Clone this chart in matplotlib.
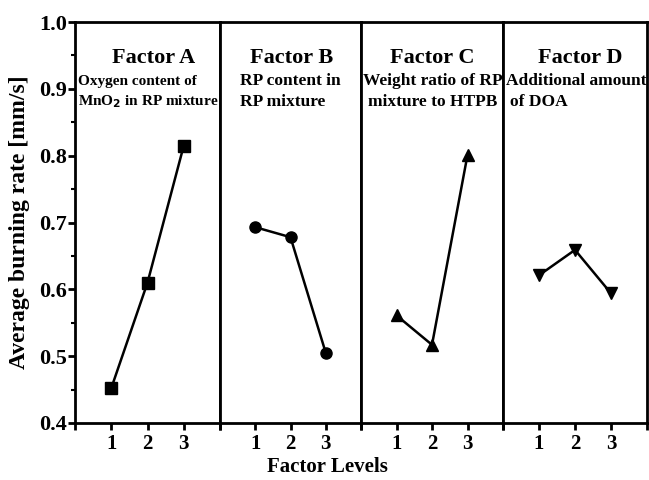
import numpy as np
import matplotlib
matplotlib.use("Agg")
import matplotlib.pyplot as plt

plt.rcParams['font.family'] = ['Liberation Serif', 'DejaVu Serif']
plt.rcParams['font.weight'] = 'bold'

levels = [1, 2, 3]
factor_a = [0.452, 0.610, 0.815]
factor_b = [0.693, 0.678, 0.505]
factor_c = [0.561, 0.517, 0.801]
factor_d = [0.621, 0.659, 0.594]

titles = ['Factor A', 'Factor B', 'Factor C', 'Factor D']
subtitles = [['Oxygen content of', 'MnO$_\\mathbf{2}$ in RP mixture'],
             ['RP content in', 'RP mixture'],
             ['Weight ratio of RP', 'mixture to HTPB'],
             ['Additional amount', 'of DOA']]
markers = ['s', 'o', '^', 'v']
series = [factor_a, factor_b, factor_c, factor_d]

fig = plt.figure(figsize=(6.49, 4.8), dpi=100)
W, H = 649, 480
bottom, top = 1 - 423 / H, 1 - 22 / H
edges = [75, 220, 361, 503, 647]
# pixel x where each subtitle line starts
sub_x = [[78, 78], [240, 240], [363, 368], [506, 510]]
sub_size = [11, 12.5, 12.5, 12.5]
title_x = [154, 292, 432, 580]

for i in range(4):
    x0 = edges[i] / W
    w = (edges[i + 1] - edges[i]) / W
    ax = fig.add_axes([x0, bottom, w, top - bottom])
    ax.plot(levels, series[i], color='black', lw=1.8, marker=markers[i],
            markersize=8, markerfacecolor='black')
    ax.set_xlim(0, 4)
    ax.set_ylim(0.4, 1.0)
    ax.set_xticks([0, 1, 2, 3, 4])
    ax.set_xticklabels(['', '1', '2', '3', ''], fontsize=15, fontweight='bold')
    for s in ax.spines.values():
        s.set_linewidth(2)
    ax.tick_params(axis='x', direction='out', length=5, width=2, pad=3)
    if i == 0:
        ax.set_yticks(np.arange(0.4, 1.01, 0.1))
        ax.set_yticks(np.arange(0.45, 1.0, 0.1), minor=True)
        ax.set_yticklabels(['%.1f' % v for v in np.arange(0.4, 1.01, 0.1)],
                           fontsize=16, fontweight='bold')
        ax.tick_params(axis='y', which='major', direction='out', length=5,
                       width=2, pad=1)
        ax.tick_params(axis='y', which='minor', direction='out', length=3,
                       width=1.5)
    else:
        ax.set_yticks([])
    fig.text(title_x[i] / W, 1 - 58 / H, titles[i], ha='center', va='center',
             fontsize=16, fontweight='bold')
    for j, line in enumerate(subtitles[i]):
        fig.text(sub_x[i][j] / W, 1 - (81 + 21 * j) / H, line, ha='left',
                 va='center', fontsize=sub_size[i], fontweight='bold')

fig.text(20 / W, 1 - 222 / H, 'Average burning rate [mm/s]', rotation=90,
         ha='center', va='center', fontsize=17, fontweight='bold')
fig.text(327 / W, 1 - 467 / H, 'Factor Levels', ha='center', va='center',
         fontsize=15, fontweight='bold')

fig.savefig('out.png', dpi=100)
